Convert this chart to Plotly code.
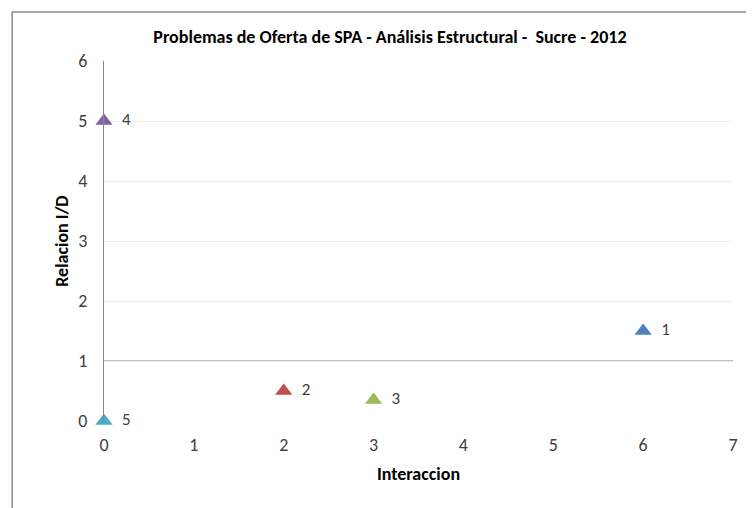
import plotly.graph_objects as go

labels = ["1", "2", "3", "4", "5"]
interaccion = [6, 2, 3, 0, 0]
relacion = [1.5, 0.5, 0.35, 5, 0]
colors = ["#4F81BD", "#C0504D", "#9BBB59", "#8064A2", "#4BACC6"]

FONT = "Carlito, Calibri, Lato, sans-serif"

fig = go.Figure()
fig.add_trace(go.Scatter(
    x=interaccion, y=relacion, mode="markers+text",
    text=["  " + l for l in labels], textposition="middle right",
    textfont=dict(family=FONT, size=17, color="#404040"),
    marker=dict(symbol="triangle-up", size=15, color=colors),
    cliponaxis=False, showlegend=False,
))

fig.add_shape(type="line", xref="x", yref="y", x0=0, x1=7, y0=1, y1=1,
              line=dict(color="#BFBFBF", width=2), layer="below")
fig.add_shape(type="rect", xref="paper", yref="paper",
              x0=-0.146, x1=1.3, y0=-0.5, y1=1.136,
              line=dict(color="#8C8C8C", width=1.5), layer="below")

fig.update_layout(
    width=746, height=500,
    margin=dict(l=96, r=21, t=53, b=87),
    paper_bgcolor="white", plot_bgcolor="white",
    font=dict(family=FONT, color="#404040"),
    title=dict(text="<b>Problemas de Oferta de SPA - Análisis Estructural -  Sucre - 2012</b>",
               x=0.512, xanchor="center", y=0.942, yanchor="middle",
               font=dict(family=FONT, size=18, color="#000000")),
    xaxis=dict(range=[0, 7], dtick=1, showgrid=False, zeroline=False, showline=False,
               ticks="", tickfont=dict(size=18, color="#404040"), ticklabelstandoff=11,
               title=dict(text="<b>Interaccion</b>", font=dict(size=18, color="#000000"), standoff=12)),
    yaxis=dict(range=[0, 6], dtick=1, showgrid=True, gridcolor="#EDEDED", gridwidth=1,
               zeroline=False, showline=True, linecolor="#868686", linewidth=1,
               ticks="", tickfont=dict(size=18, color="#404040"), ticklabelstandoff=12,
               title=dict(text="<b>Relacion I/D</b>", font=dict(size=18, color="#000000"), standoff=4)),
)

fig.write_html("out.html")
